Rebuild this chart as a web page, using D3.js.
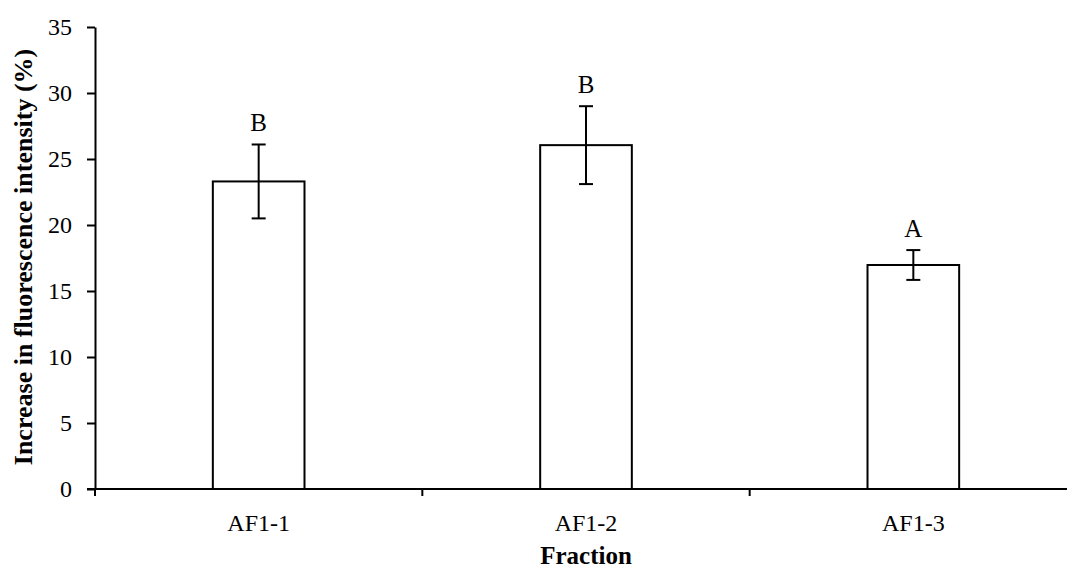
<!DOCTYPE html>
<html>
<head>
<meta charset="utf-8">
<script src="https://cdn.jsdelivr.net/npm/d3@7"></script>
<style>
html,body{margin:0;padding:0;background:#fff;}
svg{display:block;}
text{font-family:"Liberation Serif","Times New Roman",serif;fill:#000;}
</style>
</head>
<body>
<svg id="chart" width="1067" height="571"></svg>
<script>
const categories = ["AF1-1", "AF1-2", "AF1-3"];
const values = [23.3, 26.05, 16.97];
const errors = [2.8, 2.95, 1.13];
const letters = ["B", "B", "A"];
const yTicks = [0, 5, 10, 15, 20, 25, 30, 35];

const svg = d3.select("#chart");
const x0 = 95, x1 = 1077, yTop = 27, yBot = 489;
const SW = 2;

const x = d3.scaleBand().domain(categories).range([x0, x1]).paddingInner(0).paddingOuter(0);
const y = d3.scaleLinear().domain([0, 35]).range([yBot, yTop]);
const barW = x.bandwidth() * 0.28;

// y axis
const yAxis = svg.append("g").attr("transform", `translate(${x0},0)`)
  .call(d3.axisLeft(y).tickValues(yTicks).tickSize(8).tickPadding(15).tickSizeOuter(0));
yAxis.select(".domain").attr("stroke", "#000").attr("stroke-width", SW);
yAxis.selectAll(".tick line").attr("stroke", "#000").attr("stroke-width", SW);
yAxis.selectAll(".tick text").attr("font-size", 24).attr("font-family", '"Liberation Serif",serif').attr("fill", "#000");

// bars
const g = svg.append("g");
g.selectAll("rect").data(categories).enter().append("rect")
  .attr("x", (d) => x(d) + x.bandwidth()/2 - barW/2)
  .attr("y", (d, i) => y(values[i]))
  .attr("width", barW)
  .attr("height", (d, i) => yBot - y(values[i]))
  .attr("fill", "#fff").attr("stroke", "#000").attr("stroke-width", SW);

// error bars
const cap = 7;
categories.forEach((c, i) => {
  const cx = x(c) + x.bandwidth()/2;
  const hi = y(values[i] + errors[i]), lo = y(values[i] - errors[i]);
  g.append("line").attr("x1", cx).attr("x2", cx).attr("y1", hi).attr("y2", lo).attr("stroke", "#000").attr("stroke-width", SW);
  g.append("line").attr("x1", cx - cap).attr("x2", cx + cap).attr("y1", hi).attr("y2", hi).attr("stroke", "#000").attr("stroke-width", SW);
  g.append("line").attr("x1", cx - cap).attr("x2", cx + cap).attr("y1", lo).attr("y2", lo).attr("stroke", "#000").attr("stroke-width", SW);
  g.append("text").attr("x", cx).attr("y", hi - 13).attr("text-anchor", "middle")
    .attr("font-size", 25).text(letters[i]);
});

// x axis
const xAxis = svg.append("g").attr("transform", `translate(0,${yBot})`);
xAxis.append("line").attr("x1", x0 - 8).attr("x2", x1).attr("y1", 0).attr("y2", 0).attr("stroke", "#000").attr("stroke-width", SW);
const bounds = categories.map(c => x(c));
xAxis.selectAll(".tk").data(bounds).enter().append("line")
  .attr("x1", d => d).attr("x2", d => d).attr("y1", 0).attr("y2", 7)
  .attr("stroke", "#000").attr("stroke-width", SW);
xAxis.selectAll(".lbl").data(categories).enter().append("text")
  .attr("x", d => x(d) + x.bandwidth()/2).attr("y", 42).attr("text-anchor", "middle")
  .attr("font-size", 24).text(d => d);

// axis titles
svg.append("text").attr("x", 586).attr("y", 564).attr("text-anchor", "middle")
  .attr("font-size", 25).attr("font-weight", "bold").text("Fraction");
svg.append("text").attr("transform", `translate(32,257) rotate(-90)`)
  .attr("text-anchor", "middle").attr("font-size", 26).attr("font-weight", "bold")
  .text("Increase in fluorescence intensity (%)");
</script>
</body>
</html>
